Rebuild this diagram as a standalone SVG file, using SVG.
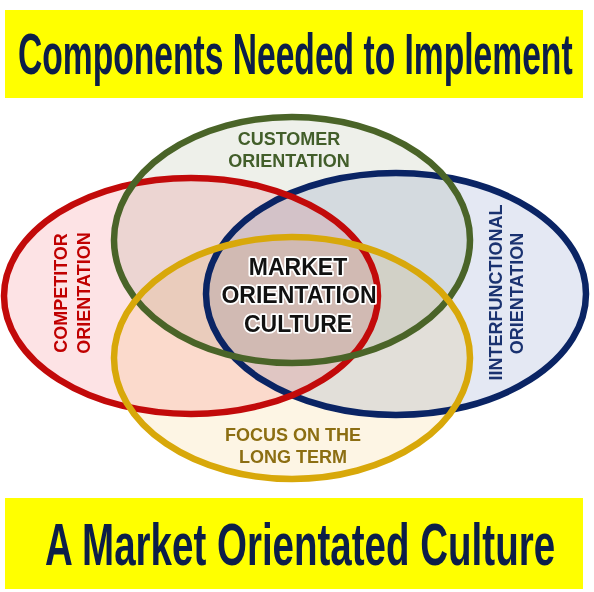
<svg xmlns="http://www.w3.org/2000/svg" width="594" height="592" viewBox="0 0 594 592">
<style>
.banner{fill:#ffff00}
.title{font-family:"Liberation Sans",Arial,sans-serif;font-weight:bold;fill:#0c1e48}
.fill{mix-blend-mode:multiply}
.ring{fill:none;stroke-width:6.5}
.lbl{font-family:"Liberation Sans",Arial,sans-serif;font-weight:bold;font-size:18px;text-anchor:middle}
.core{font-family:"Liberation Sans",Arial,sans-serif;font-weight:bold;font-size:23px;text-anchor:middle;fill:#111111;stroke:#ffffff;stroke-width:3.5;paint-order:stroke;stroke-linejoin:round}
</style>
<rect width="594" height="592" fill="#ffffff"/>
<g id="header">
<rect class="banner" x="5" y="10" width="578" height="88"/>
<text class="title" transform="scale(0.59,1)" x="30.5" y="74" font-size="57" textLength="940" lengthAdjust="spacingAndGlyphs">Components Needed to Implement</text>
</g>
<g id="footer">
<rect class="banner" x="5" y="498" width="578" height="91"/>
<text class="title" transform="scale(0.64,1)" x="70.3" y="565" font-size="60" textLength="797" lengthAdjust="spacingAndGlyphs">A Market Orientated Culture</text>
</g>
<g id="fills" style="isolation:isolate">
<ellipse class="fill" cx="396" cy="294" rx="190" ry="121" fill="#e4e8f3"/>
<ellipse class="fill" cx="191" cy="296" rx="187" ry="118" fill="#fde3e5"/>
<ellipse class="fill" cx="292" cy="240" rx="178" ry="123" fill="#eef0ea"/>
<ellipse class="fill" cx="292" cy="358" rx="178" ry="121" fill="#fdf5e4"/>
</g>
<g id="interfunctional">
<ellipse class="ring" cx="396" cy="294" rx="190" ry="121" stroke="#0a2464"/>
<text class="lbl" fill="#1a3270" transform="translate(502,292.5) rotate(-90)">IINTERFUNCTIONAL</text>
<text class="lbl" fill="#1a3270" transform="translate(523,293.5) rotate(-90)">ORIENTATION</text>
</g>
<g id="competitor">
<ellipse class="ring" cx="191" cy="296" rx="187" ry="118" stroke="#c20a0a"/>
<text class="lbl" fill="#c00000" transform="translate(67,293) rotate(-90)">COMPETITOR</text>
<text class="lbl" fill="#c00000" transform="translate(90,293) rotate(-90)">ORIENTATION</text>
</g>
<g id="customer">
<ellipse class="ring" cx="292" cy="240" rx="178" ry="123" stroke="#4a6428"/>
<text class="lbl" fill="#425e2a" x="289" y="145">CUSTOMER</text>
<text class="lbl" fill="#425e2a" x="289" y="167">ORIENTATION</text>
</g>
<g id="focus">
<ellipse class="ring" cx="292" cy="358" rx="178" ry="121" stroke="#d8a80a"/>
<text class="lbl" fill="#8c6e12" x="293" y="441">FOCUS ON THE</text>
<text class="lbl" fill="#8c6e12" x="293" y="463">LONG TERM</text>
</g>
<g id="core">
<text class="core" x="298" y="275">MARKET</text>
<text class="core" x="299" y="303">ORIENTATION</text>
<text class="core" x="298" y="332">CULTURE</text>
</g>
<g id="connectors"></g>
</svg>
